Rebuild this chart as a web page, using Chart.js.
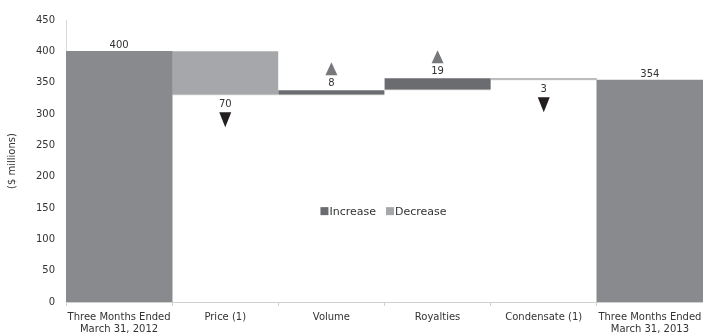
<!DOCTYPE html>
<html>
<head>
<meta charset="utf-8">
<script src="https://cdn.jsdelivr.net/npm/chart.js@4/dist/chart.umd.min.js"></script>
<style>
  html, body { margin: 0; padding: 0; background: #fff; }
  #wrap { width: 703px; height: 335px; position: relative; }
</style>
</head>
<body>
<div id="wrap"><canvas id="bridge"></canvas></div>
<script>
// Quarter-over-quarter bridge ($ millions)
const categories = [
  ['Three Months Ended', 'March 31, 2012'],
  'Price (1)',
  'Volume',
  'Royalties',
  'Condensate (1)',
  ['Three Months Ended', 'March 31, 2013']
];
const openingTotal = 400;
const closingTotal = 354;
const changes = [null, -70, 8, 19, -3, null];
const yTicks = [0, 50, 100, 150, 200, 250, 300, 350, 400, 450];

const totalColor = '#898a8e';
const increaseColor = '#6b6c70';
const decreaseColor = '#a6a7aa';
const fontFamily = '"DejaVu Sans", Verdana, sans-serif';

// Build floating bar ranges from the running total
const totalData = categories.map((c, i) => i === 0 ? openingTotal : (i === categories.length - 1 ? closingTotal : null));
const increaseData = [];
const decreaseData = [];
let running = openingTotal;
changes.forEach(ch => {
  if (ch === null) { increaseData.push(null); decreaseData.push(null); return; }
  const next = running + ch;
  const range = [Math.min(running, next), Math.max(running, next)];
  if (ch > 0) { increaseData.push(range); decreaseData.push(null); }
  else { decreaseData.push(range); increaseData.push(null); }
  running = next;
});

// Value labels plus up / down arrows
const bridgeLabels = {
  id: 'bridgeLabels',
  afterDatasetsDraw(chart) {
    const ctx = chart.ctx;
    ctx.save();
    ctx.font = '10px ' + fontFamily;
    ctx.textAlign = 'center';
    ctx.textBaseline = 'middle';
    chart.data.datasets.forEach((ds, di) => {
      const meta = chart.getDatasetMeta(di);
      meta.data.forEach((bar, i) => {
        if (ds.data[i] === null) return;
        const top = Math.min(bar.y, bar.base);
        const bottom = Math.max(bar.y, bar.base);
        const x = bar.x;
        if (ds.kind === 'total') {
          ctx.fillStyle = '#333';
          ctx.fillText(String(ds.data[i]), x, top - 6);
        } else if (ds.kind === 'up') {
          ctx.fillStyle = '#333';
          ctx.fillText(String(Math.abs(changes[i])), x, top - 7);
          ctx.fillStyle = '#77787b';
          ctx.beginPath();
          ctx.moveTo(x, top - 28);
          ctx.lineTo(x + 6, top - 15);
          ctx.lineTo(x - 6, top - 15);
          ctx.closePath();
          ctx.fill();
        } else {
          ctx.fillStyle = '#333';
          ctx.fillText(String(Math.abs(changes[i])), x, bottom + 9);
          ctx.fillStyle = '#231f20';
          ctx.beginPath();
          ctx.moveTo(x - 6, bottom + 17);
          ctx.lineTo(x + 6, bottom + 17);
          ctx.lineTo(x, bottom + 32);
          ctx.closePath();
          ctx.fill();
        }
      });
    });
    // legend in the middle of the plot
    const area = chart.chartArea;
    const ly = chart.scales.y.getPixelForValue(145);
    const items = [['Increase', increaseColor], ['Decrease', decreaseColor]];
    ctx.font = '11px ' + fontFamily;
    ctx.textAlign = 'left';
    const gap = 10, box = 8;
    let total = 0;
    items.forEach(it => { total += box + 1 + ctx.measureText(it[0]).width; });
    total += gap;
    let lx = (area.left + area.right) / 2 - total / 2 - 1;
    items.forEach(it => {
      ctx.fillStyle = it[1];
      ctx.fillRect(lx, ly - box / 2, box, box);
      ctx.fillStyle = '#333';
      ctx.fillText(it[0], lx + box + 1, ly + 1);
      lx += box + 1 + ctx.measureText(it[0]).width + gap;
    });
    ctx.restore();
  }
};

new Chart(document.getElementById('bridge'), {
  type: 'bar',
  data: {
    labels: categories,
    datasets: [
      { label: 'Total', kind: 'total', data: totalData, backgroundColor: totalColor,
        barPercentage: 1, categoryPercentage: 1, grouped: false },
      { label: 'Increase', kind: 'up', data: increaseData, backgroundColor: increaseColor,
        borderColor: '#d4d4d4', borderWidth: { top: 0, left: 0, right: 0, bottom: 1 }, borderSkipped: false,
        barPercentage: 1, categoryPercentage: 1, grouped: false },
      { label: 'Decrease', kind: 'down', data: decreaseData, backgroundColor: decreaseColor,
        borderColor: '#d4d4d4', borderWidth: { top: 0, left: 0, right: 0, bottom: 1 }, borderSkipped: false,
        barPercentage: 1, categoryPercentage: 1, grouped: false }
    ]
  },
  options: {
    responsive: true,
    maintainAspectRatio: false,
    animation: false,
    layout: { padding: { top: 20, right: 0, left: 0, bottom: 0 } },
    plugins: { legend: { display: false }, tooltip: { enabled: false } },
    scales: {
      x: {
        offset: true,
        grid: { display: true, drawOnChartArea: false, offset: true, tickLength: 4, color: '#d0d0d0' },
        border: { display: true, color: '#d0d0d0' },
        ticks: { color: '#333', font: { family: fontFamily, size: 10 }, maxRotation: 0, autoSkip: false, padding: 5 },
        afterFit(s) { s.height = 33; s.paddingLeft = 0; s.paddingRight = 0; }
      },
      y: {
        min: 0, max: 450,
        afterBuildTicks(s) { s.ticks = yTicks.map(v => ({ value: v })); },
        grid: { display: false },
        border: { display: true, color: '#d9d9d9' },
        ticks: { color: '#333', font: { family: fontFamily, size: 10 }, padding: 3 },
        title: { display: true, text: '($ millions)', color: '#333', font: { family: fontFamily, size: 10 }, padding: { top: 6, bottom: 0 } },
        afterFit(s) { s.width = 66; }
      }
    }
  },
  plugins: [bridgeLabels]
});
</script>
</body>
</html>
